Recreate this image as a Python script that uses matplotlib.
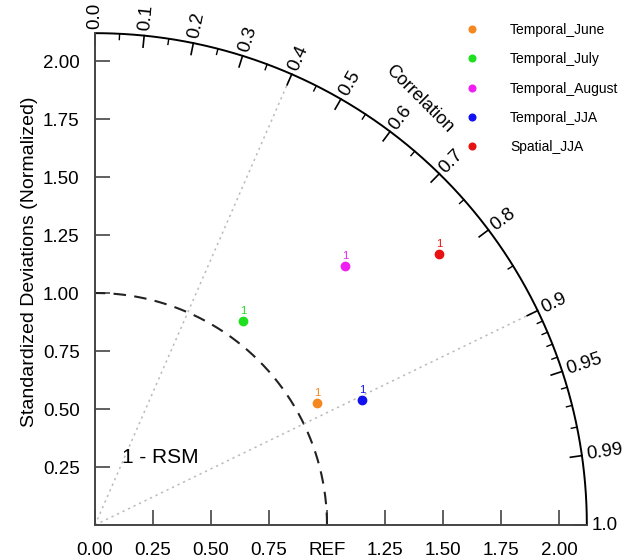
import numpy as np
import matplotlib
matplotlib.use('Agg')
import matplotlib.pyplot as plt

plt.rcParams['font.family'] = ['Liberation Sans', 'DejaVu Sans']

# normalized std ratios and correlations
names = ['Temporal_June', 'Temporal_July', 'Temporal_August', 'Temporal_JJA', 'Spatial_JJA']
ratio = [1.092, 1.085, 1.551, 1.272, 1.887]
corr = [0.876, 0.587, 0.694, 0.906, 0.786]
colors = ['#f5871f', '#1ee01e', '#f01ef0', '#1010f0', '#e81010']

rmax = 2.12
std_ticks = [0.25, 0.5, 0.75, 1.0, 1.25, 1.5, 1.75, 2.0]
x_labels = ['0.25', '0.50', '0.75', 'REF', '1.25', '1.50', '1.75', '2.00']
y_labels = ['0.25', '0.50', '0.75', '1.00', '1.25', '1.50', '1.75', '2.00']
corr_major = [0.0, 0.1, 0.2, 0.3, 0.4, 0.5, 0.6, 0.7, 0.8, 0.9, 0.95, 0.99, 1.0]
corr_minor = [0.05, 0.15, 0.25, 0.35, 0.45, 0.55, 0.65, 0.75, 0.85,
              0.91, 0.92, 0.93, 0.94, 0.96, 0.97, 0.98]
corr_lines = [0.4, 0.9]


def main():
    fig = plt.figure(figsize=(6.3, 5.6), dpi=100)
    ax = fig.add_axes([95 / 630, 35 / 560, rmax * 232 / 630, rmax * 232 / 560])
    ax.set_xlim(0, rmax)
    ax.set_ylim(0, rmax)
    ax.set_aspect('equal')
    for s in ['top', 'right']:
        ax.spines[s].set_visible(False)
    for s in ['left', 'bottom']:
        ax.spines[s].set_color('#444444')
        ax.spines[s].set_linewidth(1.4)

    ax.set_xticks([0.0] + std_ticks)
    ax.set_xticklabels(['0.00'] + x_labels, fontsize=13.5)
    ax.set_yticks(std_ticks)
    ax.set_yticklabels(y_labels, fontsize=13.5)
    ax.tick_params(direction='in', length=11, width=1.2, color='#444444', pad=11)
    ax.tick_params(axis='x', pad=12)
    ax.set_ylabel('Standardized Deviations (Normalized)', fontsize=14)
    ax.yaxis.set_label_coords(-0.115, 0.535)

    # outer arc
    t = np.linspace(0, np.pi / 2, 300)
    ax.plot(rmax * np.cos(t), rmax * np.sin(t), color='black', lw=1.4, clip_on=False)
    # REF arc
    ax.plot(np.cos(t), np.sin(t), color='#222222', lw=1.5, ls=(0, (6, 4)), clip_on=False)
    ax.text(0.28, 0.29, '1 - RSM', fontsize=15, ha='center', va='center')

    # correlation radial lines
    for c in corr_lines:
        a = np.arccos(c)
        ax.plot([0, rmax * np.cos(a)], [0, rmax * np.sin(a)], color='#bbbbbb',
                lw=1.1, ls=(0, (1.5, 2.5)))

    # correlation ticks and labels
    for c in corr_major:
        a = np.arccos(c)
        ax.plot([(rmax - 0.05) * np.cos(a), rmax * np.cos(a)],
                [(rmax - 0.05) * np.sin(a), rmax * np.sin(a)],
                color='black', lw=1.2, clip_on=False)
        ax.text((rmax + 0.02) * np.cos(a), (rmax + 0.02) * np.sin(a), str(c),
                rotation=np.degrees(a), rotation_mode='anchor',
                ha='left', va='center', fontsize=13.5)
    for c in corr_minor:
        a = np.arccos(c)
        ax.plot([(rmax - 0.025) * np.cos(a), rmax * np.cos(a)],
                [(rmax - 0.025) * np.sin(a), rmax * np.sin(a)],
                color='black', lw=1.0, clip_on=False)
    ax.text(1.397, 1.836, 'Correlation', rotation=-45, ha='center', va='center', fontsize=13)

    # data points
    for n, r, c, col in zip(names, ratio, corr, colors):
        a = np.arccos(c)
        x, y = r * np.cos(a), r * np.sin(a)
        ax.plot(x, y, 'o', color=col, markersize=6, label=n, clip_on=False)
        ax.annotate('1', (x, y), xytext=(0, 3.5), textcoords='offset points',
                    ha='center', va='bottom', color=col, fontsize=8)

    ax.legend(loc='upper left', bbox_to_anchor=(466 / 630, 1 - 23 / 560),
              bbox_transform=fig.transFigure, frameon=False, fontsize=10,
              handlelength=0.9, handletextpad=2.27, labelspacing=1.1,
              borderpad=0, borderaxespad=0, markerscale=0.8)

    fig.savefig('out.png', dpi=100)


if __name__ == "__main__":
    main()
